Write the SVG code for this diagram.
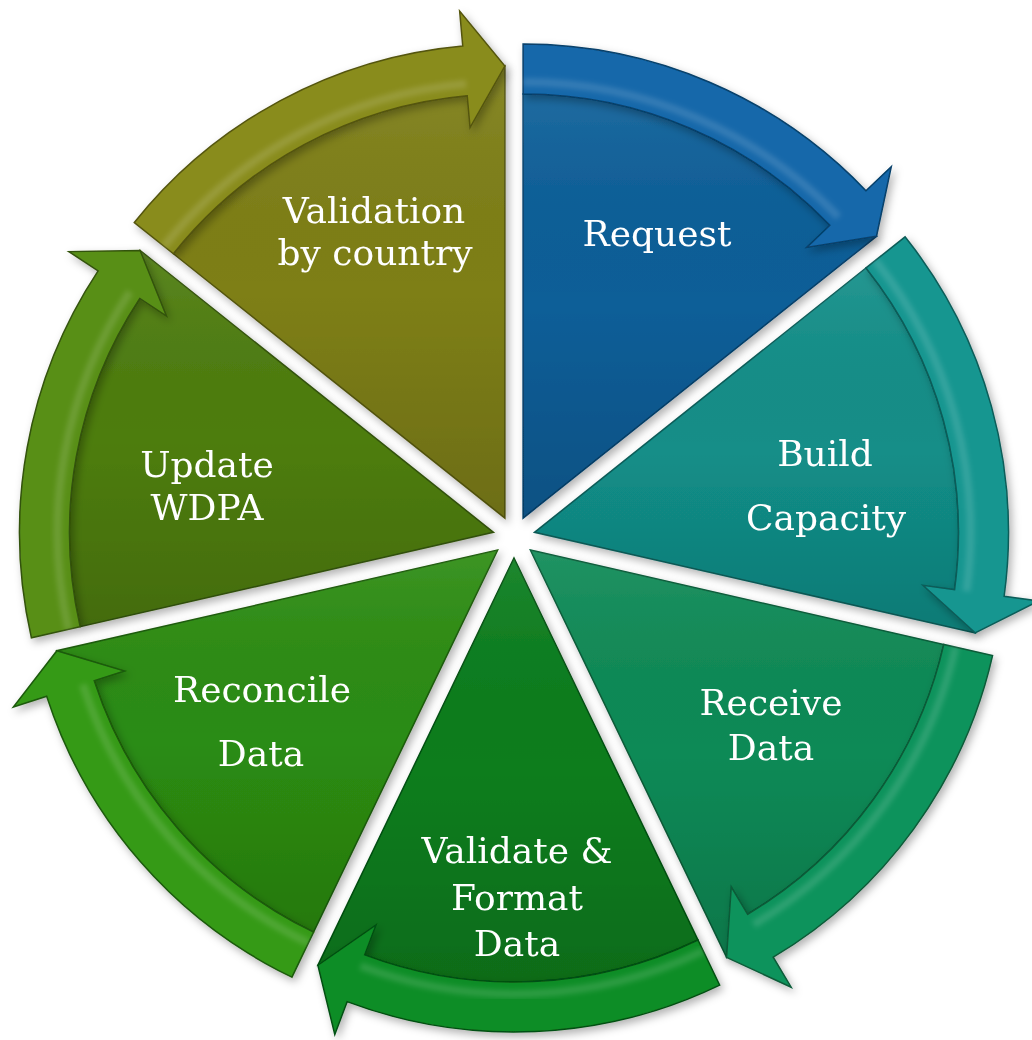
<svg xmlns="http://www.w3.org/2000/svg" width="1032" height="1040" viewBox="0 0 1032 1040">
<defs>
<style>
.body{stroke-width:1.5}
.arrow{stroke-width:1.5}
.hl{fill:none;stroke:#ffffff;stroke-opacity:0.13;stroke-width:8;filter:url(#blur)}
.shade{fill:url(#shadeGrad);stroke:none}
.lbl{font-family:"DejaVu Serif","Liberation Serif",serif;font-size:36px;fill:#ffffff;text-anchor:middle}
#n0 .body{fill:#0b5e98;stroke:#07406a}
#n1 .body{fill:#128e88;stroke:#0a5c58}
#n2 .body{fill:#0e8a56;stroke:#085a37}
#n3 .body{fill:#0a7d1d;stroke:#055012}
#n4 .body{fill:#2c8c12;stroke:#1b5a09}
#n5 .body{fill:#4e7d0f;stroke:#33520a}
#n6 .body{fill:#7e7f17;stroke:#545510}
#a0{fill:#1367aa;stroke:#07406a}
#a1{fill:#159690;stroke:#0a5c58}
#a2{fill:#11935c;stroke:#085a37}
#a3{fill:#118d25;stroke:#055012}
#a4{fill:#369a19;stroke:#1b5a09}
#a5{fill:#588f17;stroke:#33520a}
#a6{fill:#898c1b;stroke:#545510}
</style>
<linearGradient id="shadeGrad" x1="0" y1="0" x2="0" y2="1">
<stop offset="0" stop-color="#ffffff" stop-opacity="0.08"/>
<stop offset="0.5" stop-color="#000000" stop-opacity="0"/>
<stop offset="1" stop-color="#000000" stop-opacity="0.14"/>
</linearGradient>
<filter id="shadow" x="-10%" y="-10%" width="120%" height="120%">
<feDropShadow dx="3" dy="4" stdDeviation="4" flood-color="#000000" flood-opacity="0.3"/>
</filter>
<filter id="blur" x="-10%" y="-10%" width="120%" height="120%">
<feGaussianBlur stdDeviation="2.5"/>
</filter>
</defs>
<rect width="1032" height="1040" fill="#ffffff"/>

<g id="n0" filter="url(#shadow)">
<path class="body" d="M523.11,518.08 L523.11,94.08 A424,424 0 0 1 829.79,225.30 L876.50,236.26 Z"/>
<path class="shade" d="M523.11,518.08 L523.11,94.08 A424,424 0 0 1 829.79,225.30 L876.50,236.26 Z"/>
<text class="lbl" x="657" y="246">Request</text>
</g>
<g id="n1" filter="url(#shadow)">
<path class="body" d="M534.47,532.33 L865.97,267.97 A424,424 0 0 1 954.59,589.56 L975.14,632.91 Z"/>
<path class="shade" d="M534.47,532.33 L865.97,267.97 A424,424 0 0 1 954.59,589.56 L975.14,632.91 Z"/>
<text class="lbl" x="825" y="466">Build</text>
<text class="lbl" x="826" y="530">Capacity</text>
</g>
<g id="n2" filter="url(#shadow)">
<path class="body" d="M530.42,550.09 L943.79,644.44 A424,424 0 0 1 747.62,914.24 L726.53,957.33 Z"/>
<path class="shade" d="M530.42,550.09 L943.79,644.44 A424,424 0 0 1 747.62,914.24 L726.53,957.33 Z"/>
<text class="lbl" x="771" y="715">Receive</text>
<text class="lbl" x="771" y="760">Data</text>
</g>
<g id="n3" filter="url(#shadow)">
<path class="body" d="M514,558 L697.97,940.01 A424,424 0 0 1 364.72,954.85 L317.89,965.24 Z"/>
<path class="shade" d="M514,558 L697.97,940.01 A424,424 0 0 1 364.72,954.85 L317.89,965.24 Z"/>
<text class="lbl" x="517" y="863">Validate &amp;</text>
<text class="lbl" x="517" y="910">Format</text>
<text class="lbl" x="517" y="956">Data</text>
</g>
<g id="n4" filter="url(#shadow)">
<path class="body" d="M497.58,550.09 L313.61,932.10 A424,424 0 0 1 94.23,680.81 L56.91,650.67 Z"/>
<path class="shade" d="M497.58,550.09 L313.61,932.10 A424,424 0 0 1 94.23,680.81 L56.91,650.67 Z"/>
<text class="lbl" x="262" y="702">Reconcile</text>
<text class="lbl" x="261" y="766">Data</text>
</g>
<g id="n5" filter="url(#shadow)">
<path class="body" d="M493.53,532.33 L80.16,626.68 A424,424 0 0 1 139.83,298.48 L140.14,250.51 Z"/>
<path class="shade" d="M493.53,532.33 L80.16,626.68 A424,424 0 0 1 139.83,298.48 L140.14,250.51 Z"/>
<text class="lbl" x="207" y="477">Update</text>
<text class="lbl" x="207" y="520">WDPA</text>
</g>
<g id="n6" filter="url(#shadow)">
<path class="body" d="M504.89,518.08 L173.39,253.72 A424,424 0 0 1 467.20,95.76 L504.89,66.08 Z"/>
<path class="shade" d="M504.89,518.08 L173.39,253.72 A424,424 0 0 1 467.20,95.76 L504.89,66.08 Z"/>
<text class="lbl" x="374" y="223">Validation</text>
<text class="lbl" x="375" y="265">by country</text>
</g>

<g id="connectors">
<g filter="url(#shadow)">
<path id="a0" class="arrow" d="M523.11,44.08 A474,474 0 0 1 865.96,190.77 L891.27,166.61 L876.50,236.26 L806.65,247.40 L829.79,225.30 A424,424 0 0 0 523.11,94.08 Z"/>
<path id="a1" class="arrow" d="M905.06,236.80 A474,474 0 0 1 1004.13,596.31 L1038.81,601.03 L975.14,632.91 L922.88,585.24 L954.59,589.56 A424,424 0 0 0 865.97,267.97 Z"/>
<path id="a2" class="arrow" d="M992.54,655.56 A474,474 0 0 1 773.23,957.18 L791.16,987.24 L726.53,957.33 L731.23,886.76 L747.62,914.24 A424,424 0 0 0 943.79,644.44 Z"/>
<path id="a3" class="arrow" d="M719.66,985.06 A474,474 0 0 1 347.11,1001.65 L334.79,1034.41 L317.89,965.24 L375.98,924.90 L364.72,954.85 A424,424 0 0 0 697.97,940.01 Z"/>
<path id="a4" class="arrow" d="M291.92,977.15 A474,474 0 0 1 46.67,696.23 L13.37,707.02 L56.91,650.67 L124.67,670.95 L94.23,680.81 A424,424 0 0 0 313.61,932.10 Z"/>
<path id="a5" class="arrow" d="M31.41,637.80 A474,474 0 0 1 98.12,270.90 L68.93,251.60 L140.14,250.51 L166.53,316.13 L139.83,298.48 A424,424 0 0 0 80.16,626.68 Z"/>
<path id="a6" class="arrow" d="M134.30,222.55 A474,474 0 0 1 462.76,45.96 L459.64,11.10 L504.89,66.08 L470.04,127.63 L467.20,95.76 A424,424 0 0 0 173.39,253.72 Z"/>
</g>
<path class="hl" d="M523.11,82.08 A436,436 0 0 1 838.47,217.01"/>
<path class="hl" d="M875.35,260.49 A436,436 0 0 1 966.48,591.18"/>
<path class="hl" d="M955.49,647.11 A436,436 0 0 1 753.77,924.54"/>
<path class="hl" d="M703.17,950.82 A436,436 0 0 1 360.49,966.08"/>
<path class="hl" d="M308.41,942.91 A436,436 0 0 1 82.82,684.51"/>
<path class="hl" d="M68.46,629.35 A436,436 0 0 1 129.82,291.86"/>
<path class="hl" d="M164.01,246.24 A436,436 0 0 1 466.13,83.81"/>
</g>
</svg>
